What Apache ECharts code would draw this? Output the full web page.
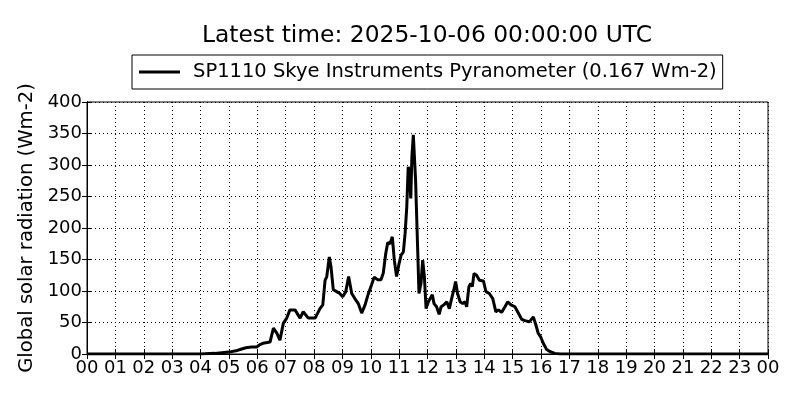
<!DOCTYPE html>
<html>
<head>
<meta charset="utf-8">
<script src="https://cdn.jsdelivr.net/npm/echarts@6/dist/echarts.min.js"></script>
<style>html,body{margin:0;padding:0;background:#fff;}#chart{width:800px;height:400px;}</style>
</head>
<body>
<div id="chart"></div>
<script>
const titleText = 'Latest time: 2025-10-06 00:00:00 UTC';
const seriesName = 'SP1110 Skye Instruments Pyranometer (0.167 Wm-2)';
const yAxisName = 'Global solar radiation (Wm-2)';
const hours = [0,4.0,4.5,4.75,5.0,5.25,5.45,5.6,5.8,5.98,6.1,6.2,6.45,6.57,6.69,6.80,6.92,7.04,7.15,7.33,7.51,7.62,7.80,8.04,8.21,8.31,8.39,8.45,8.54,8.60,8.68,8.80,8.91,9.01,9.12,9.22,9.33,9.44,9.56,9.68,9.80,9.91,10.03,10.12,10.24,10.36,10.44,10.53,10.60,10.68,10.76,10.83,10.91,11.00,11.07,11.15,11.21,11.27,11.32,11.36,11.41,11.45,11.50,11.53,11.58,11.64,11.70,11.77,11.83,11.89,11.95,12.03,12.09,12.17,12.23,12.32,12.41,12.48,12.58,12.68,12.77,12.85,12.93,12.99,13.06,13.15,13.24,13.32,13.38,13.46,13.52,13.58,13.64,13.73,13.83,13.97,14.06,14.18,14.30,14.41,14.50,14.61,14.73,14.83,14.94,15.08,15.20,15.32,15.44,15.59,15.73,15.82,15.90,15.99,16.08,16.20,16.31,16.49,16.67,24];
const radiation = [0,0,1,2,3,5,8,10,11,11,15,17,19,41,33,22,49,57,70,70,57,67,57,57,72,78,117,123,154,138,102,99,96,91,99,123,96,88,80,65,78,95,110,122,118,118,128,160,177,175,186,149,123,144,157,162,191,234,297,292,247,313,348,350,276,186,96,112,149,123,72,83,83,94,80,75,63,75,78,83,72,88,102,115,96,83,80,83,75,107,112,107,128,125,117,116,99,96,88,67,70,66,75,83,78,75,65,55,53,51,59,46,33,27,17,7,4,1,0,0];
const xTickLabels = ['00','01','02','03','04','05','06','07','08','09','10','11','12','13','14','15','16','17','18','19','20','21','22','23','00'];
const yTicks = [0,50,100,150,200,250,300,350,400];

const font = 'DejaVu Sans';
const chart = echarts.init(document.getElementById('chart'), null, {renderer:'canvas'});
const data = hours.map((h,i)=>[h, radiation[i]]);
const tickStyle = {show:true, inside:true, length:5, lineStyle:{color:'#000', width:1}};
chart.setOption({
  animation:false,
  backgroundColor:'#fff',
  title:{text:titleText, left:422, textAlign:'center', top:19, textStyle:{fontFamily:font, fontSize:23.4, fontWeight:'normal', color:'#000'}},
  legend:{
    data:[{name:seriesName, icon:'rect'}], left:132, top:55, padding:[7,6,7,7],
    borderColor:'#000', borderWidth:1, itemWidth:41, itemHeight:3, itemGap:5,
    textStyle:{fontFamily:font, fontSize:19.5, color:'#000', padding:[0,0,0,8]}
  },
  grid:{left:87, top:102, width:681, height:252, show:true, borderColor:'#000', borderWidth:1, backgroundColor:'transparent'},
  xAxis:[{
    type:'value', min:0, max:24, interval:1,
    axisLine:{show:true, lineStyle:{color:'#000', width:1}},
    axisTick:tickStyle,
    axisLabel:{fontFamily:font, fontSize:18, color:'#000', margin:5, formatter:(v)=>xTickLabels[Math.round(v)]},
    splitLine:{show:true, lineStyle:{color:'#000', width:1, type:[1,3]}}
  },{
    type:'value', min:0, max:24, interval:1, position:'top',
    axisLine:{show:true, lineStyle:{color:'#000', width:1}},
    axisTick:tickStyle, axisLabel:{show:false}, splitLine:{show:false}
  }],
  yAxis:[{
    type:'value', min:yTicks[0], max:yTicks[yTicks.length-1], interval:50,
    name:yAxisName, nameLocation:'middle', nameGap:48,
    nameTextStyle:{fontFamily:font, fontSize:19.6, color:'#000'},
    axisLine:{show:true, lineStyle:{color:'#000', width:1}},
    axisTick:tickStyle,
    axisLabel:{fontFamily:font, fontSize:18, color:'#000', margin:5},
    splitLine:{show:true, lineStyle:{color:'#000', width:1, type:[1,3]}}
  },{
    type:'value', min:yTicks[0], max:yTicks[yTicks.length-1], interval:50, position:'right',
    axisLine:{show:true, lineStyle:{color:'#000', width:1}},
    axisTick:tickStyle, axisLabel:{show:false}, splitLine:{show:false}
  }],
  series:[{
    name:seriesName, type:'line', xAxisIndex:0, yAxisIndex:0,
    data:data, symbol:'none', smooth:false,
    lineStyle:{color:'#000', width:3}, itemStyle:{color:'#000'}
  }]
});
</script>
</body>
</html>
